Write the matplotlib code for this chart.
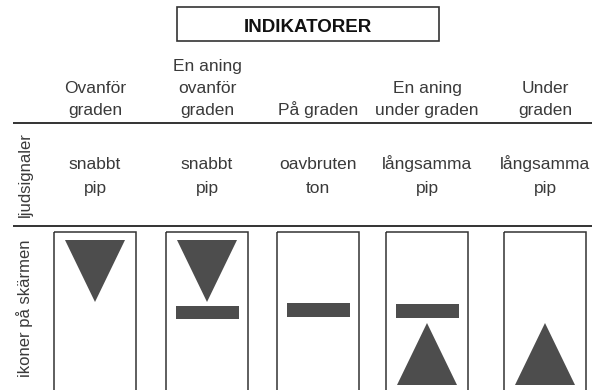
import matplotlib
matplotlib.use('Agg')
import matplotlib.pyplot as plt
from matplotlib.patches import Rectangle, Polygon
from matplotlib import font_manager

# %% data
headers = ['Ovanför\ngraden', 'En aning\novanför\ngraden', 'På graden',
           'En aning\nunder graden', 'Under\ngraden']
sounds = ['snabbt\npip', 'snabbt\npip', 'oavbruten\nton',
          'långsamma\npip', 'långsamma\npip']
icons = ['down', 'down_bar', 'bar', 'bar_up', 'up']
title = 'INDIKATORER'
row_labels = ['ljudsignaler', 'ikoner på skärmen']

# %% layout (pixels)
W, H = 592, 390
box_left = [54, 166, 277, 386, 504]
box_w = 82
box_top = 232
ink = '#4d4d4d'
txt = '#3a3a3a'

names = {f.name for f in font_manager.fontManager.ttflist}
title_font = 'Liberation Sans Narrow' if 'Liberation Sans Narrow' in names else 'Liberation Sans'

fig = plt.figure(figsize=(W / 100, H / 100), dpi=100)
ax = fig.add_axes([0, 0, 1, 1])
ax.set_xlim(0, W)
ax.set_ylim(H, 0)
ax.axis('off')

# title box
ax.add_patch(Rectangle((177, 7), 262, 34, fill=False, ec='#333333', lw=1.2))
ax.text(308, 32, title, ha='center', va='baseline', fontsize=13.5,
        fontweight='bold', family=title_font, color='#111111')

# separator lines
ax.plot([13, W], [123, 123], color='#333333', lw=1.4, solid_capstyle='butt')
ax.plot([13, W], [226, 226], color='#333333', lw=1.4, solid_capstyle='butt')

# row labels
ax.text(25, 175, row_labels[0], rotation=90, ha='center', va='center',
        fontsize=12, family='Liberation Sans', color=txt)
ax.text(25, 308, row_labels[1], rotation=90, ha='center', va='center',
        fontsize=12, family='Liberation Sans', color=txt)

for i, (hd, sd, ic) in enumerate(zip(headers, sounds, icons)):
    x0 = box_left[i]
    cx = x0 + box_w / 2
    # header text, bottom-aligned lines
    lines = hd.split('\n')
    for k, line in enumerate(reversed(lines)):
        ax.text(cx, 115 - 22 * k, line, ha='center', va='baseline',
                fontsize=12.5, family='Liberation Sans', color=txt)
    # sound text
    for k, line in enumerate(sd.split('\n')):
        ax.text(cx, 169 + 24 * k, line, ha='center', va='baseline',
                fontsize=12.5, family='Liberation Sans', color=txt)
    # icon frame
    ax.add_patch(Rectangle((x0, box_top), box_w, 200, fill=False,
                           ec='#333333', lw=1.1))
    # icon shapes
    if ic in ('down', 'down_bar'):
        ax.add_patch(Polygon([[cx - 30, 240], [cx + 30, 240], [cx, 302]],
                             closed=True, fc=ink, ec='none'))
    if ic == 'down_bar':
        ax.add_patch(Rectangle((cx - 31.5, 306), 63, 13, fc=ink, ec='none'))
    if ic == 'bar':
        ax.add_patch(Rectangle((cx - 31.5, 303), 63, 14, fc=ink, ec='none'))
    if ic == 'bar_up':
        ax.add_patch(Rectangle((cx - 31.5, 304), 63, 14, fc=ink, ec='none'))
    if ic in ('bar_up', 'up'):
        ax.add_patch(Polygon([[cx - 30, 385], [cx + 30, 385], [cx, 323]],
                             closed=True, fc=ink, ec='none'))

fig.savefig('out.png', dpi=100)
